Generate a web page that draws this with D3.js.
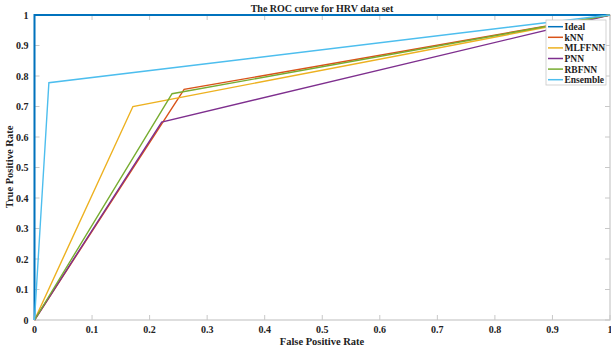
<!DOCTYPE html>
<html><head><meta charset="utf-8">
<script src="https://cdn.jsdelivr.net/npm/d3@7"></script>
<style>body{margin:0;background:#fff}svg{display:block}text{font-family:"Liberation Serif","Times New Roman",serif;font-weight:bold;fill:#222}</style>
</head><body><svg id="c" width="611" height="352"></svg>
<script>
const seriesNames = ["Ideal","kNN","MLFFNN","PNN","RBFNN","Ensemble"];
const seriesColors = ["#0072BD","#D95319","#EDB120","#7E2F8E","#77AC30","#4DBEEE"];
const fprIdeal = [0,0,1], tprIdeal = [0,1,1];
const fprKNN = [0,0.26,1], tprKNN = [0,0.756,1];
const fprMLFFNN = [0,0.171,1], tprMLFFNN = [0,0.70,1];
const fprPNN = [0,0.221,1], tprPNN = [0,0.649,1];
const fprRBFNN = [0,0.239,1], tprRBFNN = [0,0.742,1];
const fprEnsemble = [0,0.025,1], tprEnsemble = [0,0.778,1];
const xTicks = [0,0.1,0.2,0.3,0.4,0.5,0.6,0.7,0.8,0.9,1];
const yTicks = [0,0.1,0.2,0.3,0.4,0.5,0.6,0.7,0.8,0.9,1];
const xs = [fprIdeal,fprKNN,fprMLFFNN,fprPNN,fprRBFNN,fprEnsemble];
const ys = [tprIdeal,tprKNN,tprMLFFNN,tprPNN,tprRBFNN,tprEnsemble];

const svg = d3.select("#c");
const L=34.5,R=610,T=15,B=320;
const x = d3.scaleLinear().domain([0,1]).range([L,R]);
const y = d3.scaleLinear().domain([0,1]).range([B,T]);
const axCol="#c8c8c8";
// box
svg.append("rect").attr("x",L).attr("y",T).attr("width",R-L).attr("height",B-T).attr("fill","none").attr("stroke",axCol).attr("stroke-width",1.2);
// ticks
const tl=5;
const g=svg.append("g").attr("stroke",axCol).attr("stroke-width",1);
xTicks.forEach(t=>{g.append("line").attr("x1",x(t)).attr("x2",x(t)).attr("y1",B).attr("y2",B-tl);
 g.append("line").attr("x1",x(t)).attr("x2",x(t)).attr("y1",T).attr("y2",T+tl);});
yTicks.forEach(t=>{g.append("line").attr("y1",y(t)).attr("y2",y(t)).attr("x1",L).attr("x2",L+tl);
 g.append("line").attr("y1",y(t)).attr("y2",y(t)).attr("x1",R).attr("x2",R-tl);});
svg.append("g").selectAll("text").data(xTicks).join("text").attr("x",d=>x(d)).attr("y",B+13).attr("text-anchor","middle").attr("font-size",10).text(d=>d3.format("~g")(d));
svg.append("g").selectAll("text").data(yTicks).join("text").attr("x",L-6).attr("y",d=>y(d)+3.5).attr("text-anchor","end").attr("font-size",10).text(d=>d3.format("~g")(d));
// lines
const line=d3.line();
xs.forEach((xv,i)=>{
  const pts=xv.map((v,j)=>[x(v),y(ys[i][j])]);
  svg.append("path").attr("d",line(pts)).attr("fill","none").attr("stroke",seriesColors[i]).attr("stroke-width",i===0?2:1.4);
});
// labels
svg.append("text").attr("x",322).attr("y",12).attr("text-anchor","middle").attr("font-size",10).text("The ROC curve for HRV data set");
svg.append("text").attr("x",322).attr("y",345).attr("text-anchor","middle").attr("font-size",10.5).text("False Positive Rate");
svg.append("text").attr("transform","translate(13,167) rotate(-90)").attr("text-anchor","middle").attr("font-size",10.5).text("True Positive Rate");
// legend
const lg=svg.append("g");
lg.append("rect").attr("x",546).attr("y",20).attr("width",60).attr("height",65).attr("fill","#fff").attr("stroke","#c8c8c8").attr("stroke-width",0.8);
seriesNames.forEach((n,i)=>{
  const yy=26.7+i*10.6;
  lg.append("line").attr("x1",548).attr("x2",563).attr("y1",yy).attr("y2",yy).attr("stroke",seriesColors[i]).attr("stroke-width",1.5);
  lg.append("text").attr("x",564.5).attr("y",yy+3.5).attr("font-size",9.5).text(n);
});
</script></body></html>
